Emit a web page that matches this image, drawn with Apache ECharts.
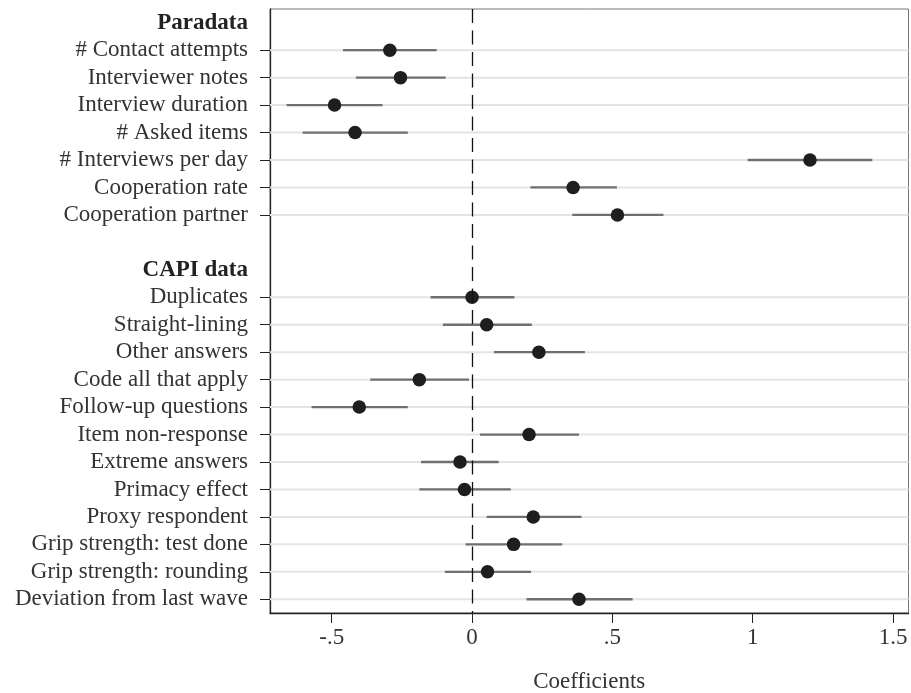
<!DOCTYPE html>
<html>
<head>
<meta charset="utf-8">
<script src="https://cdn.jsdelivr.net/npm/echarts@6/dist/echarts.min.js"></script>
<style>html,body{margin:0;padding:0;background:#fff}#c{width:911px;height:693px}</style>
</head>
<body>
<div id="c"></div>
<script>
const categories = [
  'Paradata', '# Contact attempts', 'Interviewer notes', 'Interview duration', '# Asked items',
  '# Interviews per day', 'Cooperation rate', 'Cooperation partner', '',
  'CAPI data', 'Duplicates', 'Straight-lining', 'Other answers', 'Code all that apply',
  'Follow-up questions', 'Item non-response', 'Extreme answers', 'Primacy effect',
  'Proxy respondent', 'Grip strength: test done', 'Grip strength: rounding', 'Deviation from last wave'
];
const headerRows = ['Paradata', 'CAPI data'];
const estimate = [null, -0.293, -0.255, -0.490, -0.417, 1.204, 0.360, 0.518, null,
  null, 0.000, 0.052, 0.238, -0.188, -0.402, 0.203, -0.043, -0.027, 0.218, 0.148, 0.055, 0.381];
const ciLow = [null, -0.460, -0.414, -0.661, -0.604, 0.982, 0.208, 0.357, null,
  null, -0.148, -0.104, 0.078, -0.363, -0.572, 0.028, -0.182, -0.188, 0.052, -0.023, -0.097, 0.194];
const ciHigh = [null, -0.126, -0.094, -0.319, -0.229, 1.426, 0.516, 0.682, null,
  null, 0.151, 0.213, 0.402, -0.011, -0.229, 0.381, 0.095, 0.138, 0.390, 0.321, 0.210, 0.572];
const xTicks = [-0.5, 0, 0.5, 1, 1.5];
const xTickLabels = ['-.5', '0', '.5', '1', '1.5'];
const xMin = -0.72, xMax = 1.555;

const FONT = '"Liberation Serif", "DejaVu Serif", serif';
const FS = 23;
const isData = i => estimate[i] !== null;

const ciData = [], dotData = [], gridData = [];
categories.forEach((c, i) => {
  if (isData(i)) {
    ciData.push([ciLow[i], i, ciHigh[i]]);
    dotData.push([estimate[i], i]);
    gridData.push([xMin, i, xMax]);
  }
});

function hLine(color, width) {
  return function (params, api) {
    const row = api.value(1);
    const p1 = api.coord([api.value(0), row]);
    const p2 = api.coord([api.value(2), row]);
    return {
      type: 'line',
      shape: { x1: p1[0], y1: p1[1], x2: p2[0], y2: p2[1] },
      style: { stroke: color, lineWidth: width }
    };
  };
}

const chart = echarts.init(document.getElementById('c'), null, { renderer: 'canvas' });
chart.setOption({
  animation: false,
  grid: {
    left: 270, right: 2.5, top: 9, bottom: 80, containLabel: false, outerBoundsMode: 'none',
    show: true, borderColor: '#777', borderWidth: 1
  },
  xAxis: {
    type: 'value', min: xMin, max: xMax,
    name: 'Coefficients', nameLocation: 'middle', nameGap: 57,
    nameTextStyle: { fontFamily: FONT, fontSize: FS, color: '#333' },
    axisLine: { show: true, onZero: false, lineStyle: { color: '#222', width: 1.3 } },
    axisTick: { show: true, length: 10, customValues: xTicks, lineStyle: { color: '#222' } },
    axisLabel: {
      customValues: xTicks, margin: 13,
      fontFamily: FONT, fontSize: FS, color: '#333',
      formatter: v => { const k = xTicks.findIndex(t => Math.abs(t - v) < 1e-9); return k >= 0 ? xTickLabels[k] : ''; }
    },
    splitLine: { show: false }
  },
  yAxis: {
    type: 'category', data: categories, inverse: true,
    axisLine: { show: true, onZero: false, lineStyle: { color: '#222', width: 1.3 } },
    axisTick: {
      show: true, length: 10, alignWithLabel: true,
      interval: (idx) => isData(idx), lineStyle: { color: '#222' }
    },
    axisLabel: {
      interval: 0, margin: 22, fontFamily: FONT, fontSize: FS, color: '#333',
      formatter: v => headerRows.includes(v) ? '{b|' + v + '}' : v,
      rich: { b: { fontFamily: FONT, fontSize: FS, fontWeight: 'bold', color: '#222' } }
    },
    splitLine: { show: false }
  },
  series: [
    {
      type: 'custom', renderItem: hLine('#e4e4e4', 2), data: gridData,
      z: 1, silent: true,
      markLine: {
        silent: true, symbol: 'none', label: { show: false },
        lineStyle: { color: '#111', width: 1.3, type: [14, 7.5] },
        data: [{ xAxis: 0 }]
      }
    },
    {
      type: 'custom', renderItem: hLine('#707070', 2.3), data: ciData,
      z: 3, silent: true
    },
    {
      type: 'scatter', data: dotData, symbolSize: 13.5, z: 4,
      itemStyle: { color: '#1e1e1e', opacity: 1 }
    }
  ]
});
</script>
</body>
</html>
